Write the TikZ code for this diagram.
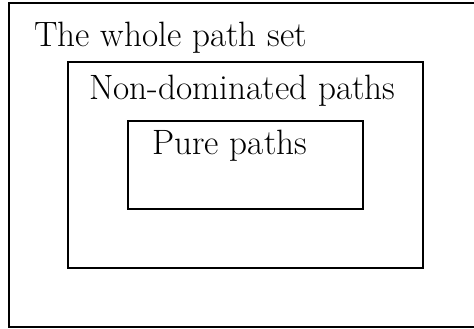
\documentclass[tikz,border=0pt]{standalone}
\usepackage{fontspec}
\usepackage{tikz}

\tikzset{
  setbox/.style={draw, line width=0.6pt},
  setname/.style={anchor=base west, inner sep=0pt, font=\fontsize{17.6}{21}\selectfont},
}

\begin{document}
\begin{tikzpicture}[x=0.5pt, y=-0.5pt]
\useasboundingbox (0,0) rectangle (474,328);

% nested sets, outermost first
\draw[setbox] (9,3) rectangle (478,327);
\draw[setbox] (68,62) rectangle (423,268);
\draw[setbox] (128,121) rectangle (363,209);

\node[setname] (whole) at (34,46) {The whole path set};
\node[setname] (nondom) at (89,99) {Non-dominated paths};
\node[setname] (pure) at (152,154) {Pure paths};

\end{tikzpicture}
\end{document}
